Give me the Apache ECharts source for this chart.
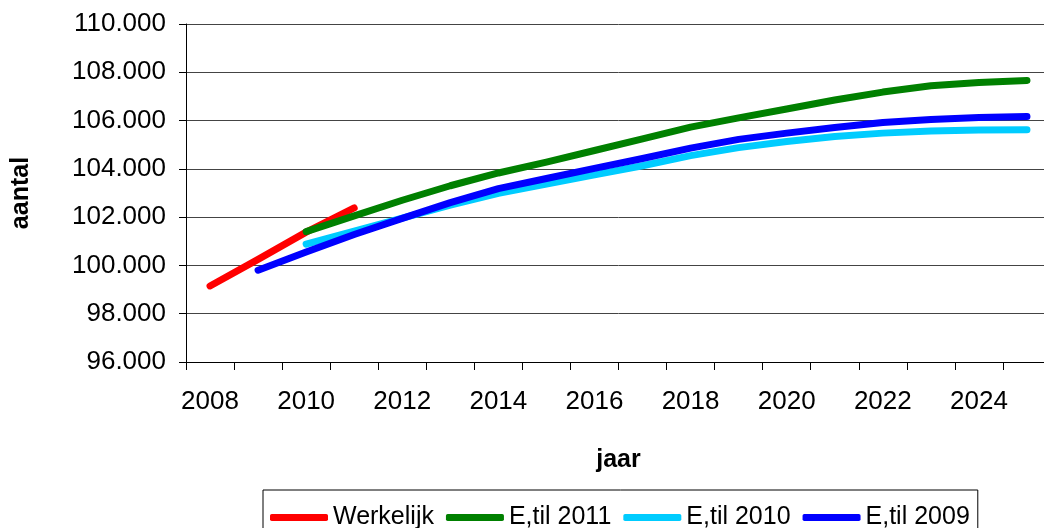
<!DOCTYPE html>
<html>
<head>
<meta charset="utf-8">
<script src="https://cdn.jsdelivr.net/npm/echarts@6/dist/echarts.min.js"></script>
<style>
  html, body { margin: 0; padding: 0; background: #fff; overflow: hidden; }
  #chart { width: 1051px; height: 528px; }
</style>
</head>
<body>
<div id="chart"></div>
<script>
var years = ['2008','2009','2010','2011','2012','2013','2014','2015','2016','2017','2018','2019','2020','2021','2022','2023','2024','2025'];
var werkelijk = [99150, 100250, 101380, 102380, null, null, null, null, null, null, null, null, null, null, null, null, null, null];
var til2011 = [null, null, 101400, 102050, 102700, 103300, 103830, 104280, 104760, 105240, 105730, 106110, 106480, 106850, 107180, 107440, 107580, 107660];
var til2010 = [null, null, 100880, 101420, 101960, 102500, 102990, 103370, 103750, 104130, 104550, 104880, 105130, 105340, 105480, 105570, 105610, 105620];
var til2009 = [null, 99800, 100560, 101280, 101950, 102600, 103180, 103600, 104020, 104430, 104860, 105220, 105480, 105710, 105920, 106040, 106130, 106170];

var font = 'Liberation Sans, Arial, sans-serif';

function dots(v) {
    return String(v).replace(/\B(?=(\d{3})+(?!\d))/g, '.');
}

function line(name, data, color) {
    return {
        name: name,
        type: 'line',
        data: data,
        showSymbol: false,
        symbol: 'none',
        connectNulls: false,
        lineStyle: { color: color, width: 7, cap: 'round', join: 'round' },
        itemStyle: { color: color },
        animation: false
    };
}

// plot area runs a few px past the right edge of the picture, like the original
var chart = echarts.init(document.getElementById('chart'));
var option = {
    backgroundColor: '#fff',
    textStyle: { fontFamily: font, color: '#000' },
    grid: { left: 186, top: 24, right: 0, bottom: 166 },
    legend: {
        left: 263,
        top: 490,
        borderColor: '#000',
        borderWidth: 1,
        padding: [15, 8, 15, 7],
        itemGap: 12,
        itemWidth: 58,
        itemHeight: 7,
        icon: 'roundRect',
        textStyle: { fontFamily: font, fontSize: 25, color: '#000' },
        data: ['Werkelijk', 'E,til 2011', 'E,til 2010', 'E,til 2009']
    },
    xAxis: {
        type: 'category',
        data: years,
        boundaryGap: true,
        name: 'jaar',
        nameLocation: 'middle',
        nameGap: 86,
        nameTextStyle: { fontFamily: font, fontSize: 25, fontWeight: 'bold', color: '#000' },
        axisLine: { lineStyle: { color: '#000', width: 1 } },
        axisTick: { show: true, interval: 0, length: 8, lineStyle: { color: '#000' } },
        axisLabel: { interval: 1, margin: 27, fontSize: 26, color: '#000', fontFamily: font },
        splitLine: { show: false }
    },
    yAxis: {
        type: 'value',
        min: 96000,
        max: 110000,
        interval: 2000,
        name: 'aantal',
        nameLocation: 'middle',
        nameRotate: 90,
        nameGap: 152,
        nameTextStyle: { fontFamily: font, fontSize: 25, fontWeight: 'bold', color: '#000' },
        axisLine: { show: true, lineStyle: { color: '#000', width: 1 } },
        axisTick: { show: true, length: 7, lineStyle: { color: '#000' } },
        axisLabel: { margin: 20, fontSize: 26, color: '#000', fontFamily: font, formatter: dots },
        splitLine: { show: true, lineStyle: { color: '#444', width: 1 } }
    },
    series: [
        line('Werkelijk', werkelijk, '#ff0000'),
        line('E,til 2011', til2011, '#008000'),
        line('E,til 2010', til2010, '#00ccff'),
        line('E,til 2009', til2009, '#0000ff')
    ]
};
chart.setOption(option);
</script>
</body>
</html>
